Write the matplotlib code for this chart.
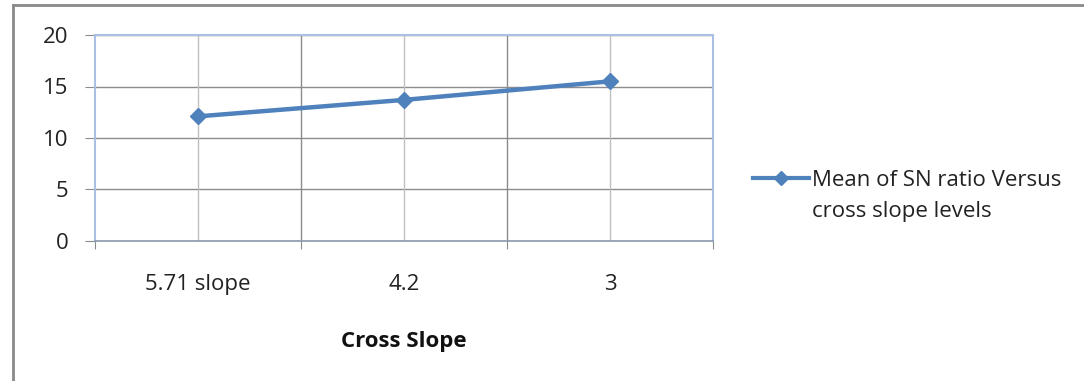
import matplotlib.pyplot as plt
from matplotlib.lines import Line2D

# Mean S/N ratio for each cross slope level
levels = ["5.71 slope", "4.2", "3"]
sn_mean = [12.1, 13.7, 15.5]
yticks = [0, 5, 10, 15, 20]
series_label = ["Mean of SN ratio Versus", "cross slope levels"]

blue = "#4f81bd"
grid_dark = "#8c8c8c"
grid_light = "#c0c0c0"
frame_blue = "#a9bfe3"
text_col = "#222222"

plt.rcParams["font.family"] = ["Open Sans", "DejaVu Sans"]

fig = plt.figure(figsize=(10.84, 3.81), dpi=100)
ax = fig.add_axes([95 / 1084, 1 - 241 / 381, 618 / 1084, 206 / 381])

x = list(range(len(levels)))
ax.plot(x, sn_mean, color=blue, lw=3.2, marker="D", ms=8.5,
        mec=blue, mfc=blue, zorder=3)

ax.set_xlim(-0.5, len(levels) - 0.5)
ax.set_ylim(0, 20)

# horizontal grid
for v in yticks[1:]:
    ax.axhline(v, color=grid_dark, lw=1, zorder=1)
# light lines through categories, darker lines at category boundaries
for i in x:
    ax.axvline(i, color=grid_light, lw=1, zorder=1)
for i in range(1, len(levels)):
    ax.axvline(i - 0.5, color=grid_dark, lw=1, zorder=1)

ax.set_yticks(yticks)
ax.set_yticklabels([str(v) for v in yticks], fontsize=16, color=text_col)
ax.set_xticks([i - 0.5 for i in range(len(levels) + 1)])
ax.set_xticklabels([])
ax.set_xticks(x, minor=True)
ax.set_xticklabels(levels, minor=True, fontsize=16, color=text_col)
ax.tick_params(axis="x", which="minor", length=0, pad=24)
ax.tick_params(axis="x", which="major", length=6, color=grid_dark, direction="out")
ax.tick_params(axis="y", length=7, color=grid_dark, pad=12)

for side in ["top", "right", "left"]:
    ax.spines[side].set_color(frame_blue)
    ax.spines[side].set_linewidth(1.5)
ax.spines["bottom"].set_color("#8a97aa")
ax.spines["bottom"].set_linewidth(1.2)

ax.set_xlabel("Cross Slope", fontsize=16, fontweight="bold", labelpad=26,
              color="#111111")

# legend: marker sits beside the first line of the label
handle = Line2D([], [], color=blue, lw=3, marker="D", ms=7, mec=blue, mfc=blue)
blank = Line2D([], [], color="none")
fig.legend([handle, blank], series_label,
           loc="center left", bbox_to_anchor=(733 / 1084, 1 - 196 / 381),
           frameon=False, fontsize=16, handlelength=2.5, handletextpad=0.15,
           labelspacing=0.45, labelcolor=text_col)

# outer chart frame
fig.add_artist(Line2D([13 / 1084, 13 / 1084], [0, 1 - 5 / 381],
                      transform=fig.transFigure, color="#8a8a8a", lw=2))
fig.add_artist(Line2D([13 / 1084, 1], [1 - 5 / 381, 1 - 5 / 381],
                      transform=fig.transFigure, color="#8a8a8a", lw=2))

fig.savefig("out.png", dpi=100)
